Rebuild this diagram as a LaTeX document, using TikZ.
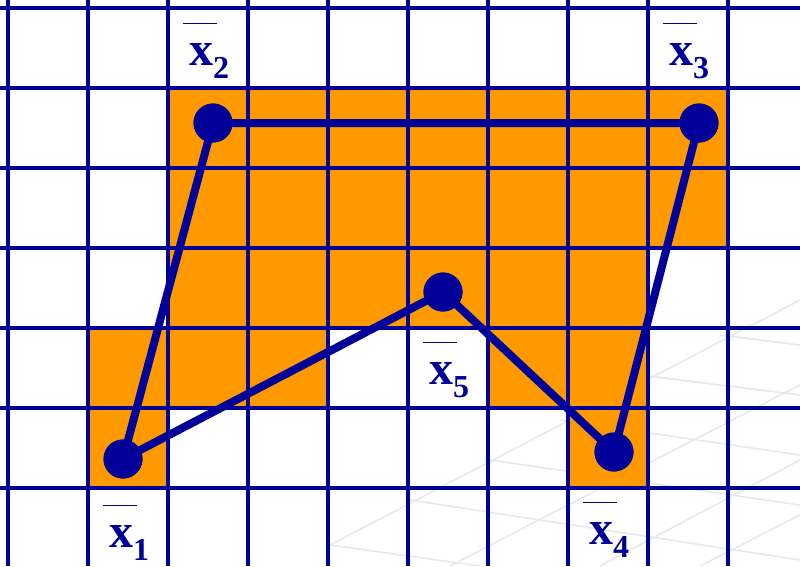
\documentclass[tikz,border=0pt]{standalone}
\usepackage{fontspec}
\setmainfont{Liberation Serif}
\definecolor{gridblue}{RGB}{0,0,153}
\definecolor{cellorange}{RGB}{255,153,0}
\definecolor{faint}{RGB}{232,232,232}
\newcommand\xlabel[1]{\rlap{\raisebox{41pt}{\color{gridblue}\rule{34pt}{1.5pt}}}\hspace*{6pt}{\fontsize{48}{48}\selectfont\bfseries x}\raisebox{-13pt}{\fontsize{32}{32}\selectfont\bfseries #1}}
\begin{document}
\begin{tikzpicture}[x=1pt,y=-1pt,
  cell/.style={fill=cellorange,draw=none},
  gridline/.style={draw=gridblue,line width=4pt},
  edge/.style={draw=gridblue,line width=8pt},
  dot/.style={circle,fill=gridblue,minimum size=39pt,inner sep=0pt},
  lab/.style={anchor=base west,inner sep=0pt,text=gridblue},
  wm/.style={draw=faint,line width=1.5pt}]
\useasboundingbox (0,0) rectangle (800,566);
\clip (0,0) rectangle (800,566);
\fill[white] (0,0) rectangle (800,566);
% faint watermark
\begin{scope}
\clip (330,300) rectangle (800,566);
\draw[wm] (330,545) -- (800,300);
\draw[wm] (450,566) -- (800,385);
\draw[wm] (600,566) -- (800,460);
\draw[wm] (700,566) -- (800,515);
\draw[wm] (410,500) -- (800,560);
\draw[wm] (330,545) -- (480,566);
\draw[wm] (490,460) -- (800,505);
\draw[wm] (560,420) -- (800,455);
\draw[wm] (640,375) -- (800,395);
\draw[wm] (720,335) -- (800,345);
\end{scope}
% orange cells
\fill[cell] (168,88) rectangle (728,248);
\fill[cell] (168,248) rectangle (648,328);
\fill[cell] (88,328) rectangle (328,408);
\fill[cell] (488,328) rectangle (648,408);
\fill[cell] (88,408) rectangle (168,488);
\fill[cell] (568,408) rectangle (648,488);
% grid
\foreach \gx in {8,88,...,728} \draw[gridline] (\gx,0) -- (\gx,566);
\foreach \gy in {8,88,...,488} \draw[gridline] (0,\gy) -- (800,\gy);
% points
\node[dot] (x1) at (123,459) {};
\node[dot] (x2) at (213,123) {};
\node[dot] (x3) at (699,123) {};
\node[dot] (x4) at (614,452) {};
\node[dot] (x5) at (443,292) {};
\draw[edge] (x1.center) -- (x2.center) -- (x3.center) -- (x4.center) -- (x5.center) -- (x1.center);
\node[dot] at (x1) {};
\node[dot] at (x2) {};
\node[dot] at (x3) {};
\node[dot] at (x4) {};
\node[dot] at (x5) {};
% labels
\node[lab] (l1) at (103,547) {\xlabel{1}};
\node[lab] (l2) at (183,65) {\xlabel{2}};
\node[lab] (l3) at (663,65) {\xlabel{3}};
\node[lab] (l4) at (583,544) {\xlabel{4}};
\node[lab] (l5) at (423,384) {\xlabel{5}};
\end{tikzpicture}
\end{document}
